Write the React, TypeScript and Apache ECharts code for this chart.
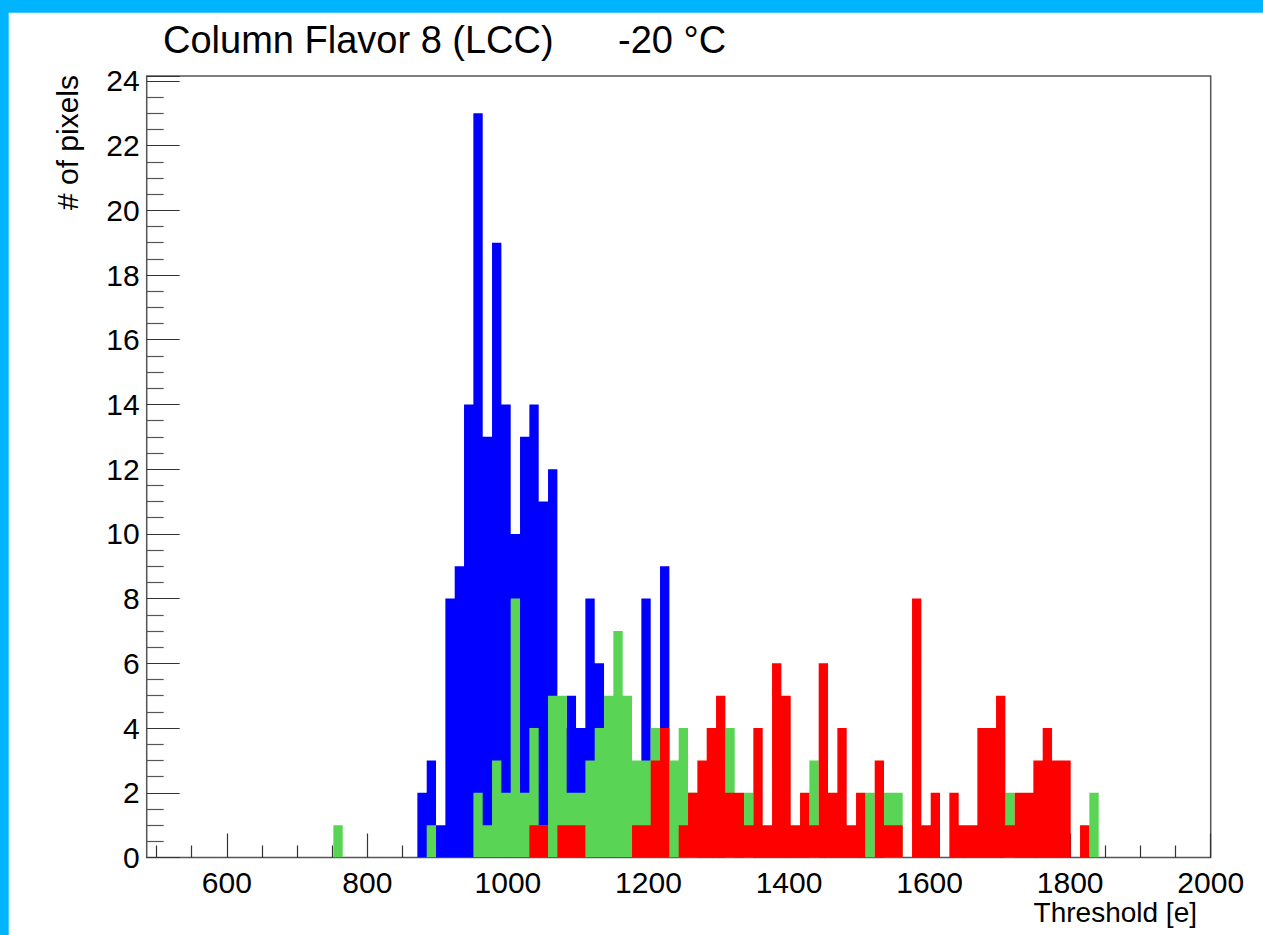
import { useEffect, useRef } from "react";
import * as echarts from "echarts";

// Histogram binning (x axis in electrons)
const X_MIN = 486;
const X_MAX = 2000;
const N_BINS = 114;

// Counts per bin; each series starts at the given bin index
const blueStart = 29;
const blueCounts = [2, 3, 1, 8, 9, 14, 23, 13, 19, 14, 10, 13, 14, 11, 12, 4, 5, 4, 8, 6, 4, 3, 2, 1, 8, 2, 9];

const greenStart = 20;
const greenCounts = [
  1, 0, 0, 0, 0, 0, 0, 0, 0, 0, // 20-29
  1, 0, 0, 0, 0, 2, 1, 3, 2, 8, // 30-39
  2, 4, 1, 5, 5, 2, 2, 3, 4, 5, // 40-49
  7, 5, 3, 3, 4, 3, 3, 4, 2, 0, // 50-59
  0, 0, 4, 0, 2, 0, 0, 0, 0, 0, // 60-69
  0, 3, 0, 0, 0, 0, 0, 2, 0, 2, // 70-79
  2, 0, 0, 0, 0, 0, 0, 0, 0, 0, // 80-89
  0, 0, 2, 0, 0, 0, 0, 0, 0, 0, // 90-99
  0, 2, // 100-101
];

const redStart = 41;
const redCounts = [
  1, 1, 0, 1, 1, 1, 0, 0, 0, // 41-49
  0, 0, 1, 1, 3, 4, 0, 1, 2, 3, // 50-59
  4, 5, 2, 2, 1, 4, 1, 6, 5, 1, // 60-69
  2, 1, 6, 2, 4, 1, 2, 0, 3, 1, // 70-79
  1, 0, 8, 1, 2, 0, 2, 1, 1, 4, // 80-89
  4, 5, 1, 2, 2, 3, 4, 3, 3, 0, // 90-99
  1, // 100
];

const xMajorTicks = [600, 800, 1000, 1200, 1400, 1600, 1800, 2000];
const xMinorTicks = [
  500, 550, 650, 700, 750, 850, 900, 950, 1050, 1100, 1150, 1250, 1300, 1350,
  1450, 1500, 1550, 1650, 1700, 1750, 1850, 1900, 1950,
];

const Y_MAX = 24.15;

const titleMain = "Column Flavor 8 (LCC)";
const titleTemp = "-20 °C";
const xTitle = "Threshold [e]";
const yTitle = "# of pixels";

const FONT = "'Liberation Sans', Arial, Helvetica, sans-serif";

function stepData(start: number, counts: number[]) {
  const bw = (X_MAX - X_MIN) / N_BINS;
  const pts: number[][] = counts.map((c, k) => [X_MIN + (start + k) * bw, c]);
  pts.push([X_MIN + (start + counts.length) * bw, 0]);
  return pts;
}

function histSeries(name: string, start: number, counts: number[], color: string) {
  return {
    name,
    type: "line",
    step: "end",
    xAxisIndex: 0,
    yAxisIndex: 0,
    symbol: "none",
    showSymbol: false,
    lineStyle: { width: 0, opacity: 0 },
    areaStyle: { color, opacity: 1 },
    data: stepData(start, counts),
    silent: true,
  };
}

export default function App() {
  const ref = useRef<HTMLDivElement>(null);

  useEffect(() => {
    if (!ref.current) return;
    const chart = echarts.init(ref.current, undefined, { renderer: "svg" });
    const tickLabel = {
      fontFamily: FONT,
      fontSize: 30,
      lineHeight: 26,
      color: "#000",
      formatter: (v: number) => String(Math.round(v)),
    };
    chart.setOption({
      animation: false,
      backgroundColor: "#fff",
      grid: {
        left: 146.7,
        top: 76,
        right: 52.3,
        bottom: 77.5,
        show: true,
        borderColor: "#555",
        borderWidth: 1.5,
        backgroundColor: "transparent",
        outerBoundsMode: "none",
        containLabel: false,
      },
      xAxis: [
        {
          type: "value",
          min: X_MIN,
          max: X_MAX,
          position: "bottom",
          axisLine: { show: false },
          splitLine: { show: false },
          axisTick: {
            show: true,
            inside: true,
            length: 24,
            customValues: xMajorTicks,
            lineStyle: { color: "#333", width: 1.2 },
          },
          axisLabel: {
            show: true,
            customValues: xMajorTicks,
            margin: 12,
            ...tickLabel,
          },
        },
        {
          type: "value",
          min: X_MIN,
          max: X_MAX,
          position: "bottom",
          axisLine: { show: false },
          splitLine: { show: false },
          axisTick: {
            show: true,
            inside: true,
            length: 12,
            customValues: xMinorTicks,
            lineStyle: { color: "#333", width: 1.2 },
          },
          axisLabel: { show: false },
        },
      ],
      yAxis: {
        type: "value",
        min: 0,
        max: Y_MAX,
        interval: 2,
        axisLine: { show: false },
        splitLine: { show: false },
        axisTick: {
          show: true,
          inside: true,
          length: 33,
          lineStyle: { color: "#333", width: 1.2 },
        },
        minorTick: {
          show: true,
          splitNumber: 4,
          length: 17,
          lineStyle: { color: "#555", width: 1.2 },
        },
        minorSplitLine: { show: false },
        axisLabel: {
          show: true,
          margin: 7,
          showMaxLabel: false,
          ...tickLabel,
        },
      },
      series: [
        histSeries("blue", blueStart, blueCounts, "#0000ff"),
        histSeries("green", greenStart, greenCounts, "#59d454"),
        histSeries("red", redStart, redCounts, "#ff0000"),
      ],
      graphic: [
        { type: "rect", left: 0, top: 0, shape: { x: 0, y: 0, width: 1263, height: 12.7 }, style: { fill: "#00b4ff" }, silent: true },
        { type: "rect", left: 0, top: 0, shape: { x: 0, y: 0, width: 8.7, height: 935 }, style: { fill: "#00b4ff" }, silent: true },
        {
          type: "text",
          x: 163,
          y: 40,
          style: { text: titleMain, fontFamily: FONT, fontSize: 38, fill: "#000", align: "left", verticalAlign: "middle" },
        },
        {
          type: "text",
          x: 618,
          y: 40,
          style: { text: titleTemp, fontFamily: FONT, fontSize: 38, fill: "#000", align: "left", verticalAlign: "middle" },
        },
        {
          type: "text",
          x: 1197,
          y: 912,
          style: { text: xTitle, fontFamily: FONT, fontSize: 28, lineHeight: 24, fill: "#000", align: "right", verticalAlign: "middle" },
        },
        {
          type: "text",
          x: 67,
          y: 75,
          rotation: Math.PI / 2,
          style: { text: yTitle, fontFamily: FONT, fontSize: 30, fill: "#000", align: "right", verticalAlign: "middle" },
        },
      ],
    });
    return () => chart.dispose();
  }, []);

  return (
    <div
      ref={ref}
      style={{ position: "fixed", left: 0, top: 0, width: 1263, height: 935, background: "#fff" }}
    />
  );
}
